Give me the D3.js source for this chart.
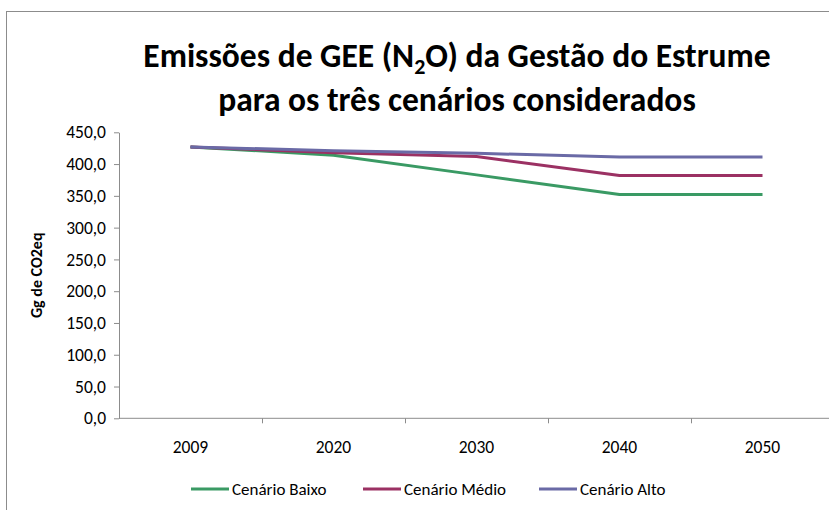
<!DOCTYPE html>
<html>
<head>
<meta charset="utf-8">
<script src="https://cdn.jsdelivr.net/npm/d3@7"></script>
<style>
  body { margin: 0; background: #fff; }
  text { font-family: Carlito, Lato, "Open Sans", sans-serif; }
</style>
</head>
<body>
<svg width="829" height="510"></svg>
<script>
var years = ["2009", "2020", "2030", "2040", "2050"];
var baixo = [427, 414, 383, 352, 352];
var medio = [427, 418, 412, 382, 382];
var alto = [427, 421, 417, 411, 411];
var seriesNames = ["Cenário Baixo", "Cenário Médio", "Cenário Alto"];
var seriesColors = ["#3a9a64", "#9b3163", "#6a6aa6"];
var yTicks = [0, 50, 100, 150, 200, 250, 300, 350, 400, 450];

var svg = d3.select("svg");

// chart frame (cut off on the right and bottom like the original)
svg.append("rect")
    .attr("x", 6.5).attr("y", 11.5)
    .attr("width", 900).attr("height", 600)
    .attr("fill", "none")
    .attr("stroke", "#8c8c8c")
    .attr("stroke-width", 1);

var plotLeft = 119, plotRight = 834, plotTop = 132.3, plotBottom = 418.3;

var x = d3.scaleBand()
    .domain(years)
    .range([plotLeft, plotRight]);

var y = d3.scaleLinear()
    .domain([0, 450])
    .range([plotBottom, plotTop]);

// y axis
var yAxis = svg.append("g")
    .attr("transform", "translate(" + plotLeft + ",0)")
    .call(d3.axisLeft(y)
        .tickValues(yTicks)
        .tickSize(5)
        .tickSizeOuter(0)
        .tickPadding(8)
        .tickFormat(function(d) { return d3.format(".1f")(d).replace(".", ","); }));
yAxis.select(".domain").attr("stroke", "#8c8c8c");
yAxis.selectAll(".tick line").attr("stroke", "#8c8c8c");
yAxis.selectAll("text")
    .attr("font-size", "17.5px")
    .attr("fill", "#000");

// x axis: ticks between categories
var xg = svg.append("g");
xg.append("line")
    .attr("x1", plotLeft).attr("x2", plotRight)
    .attr("y1", plotBottom).attr("y2", plotBottom)
    .attr("stroke", "#8c8c8c");
xg.selectAll(".xtick")
    .data(years.slice(1))
    .enter()
    .append("line")
    .attr("x1", function(d) { return x(d) + 0.5; })
    .attr("x2", function(d) { return x(d) + 0.5; })
    .attr("y1", plotBottom)
    .attr("y2", plotBottom + 5)
    .attr("stroke", "#8c8c8c");
xg.selectAll(".xlabel")
    .data(years)
    .enter()
    .append("text")
    .text(function(d) { return d; })
    .attr("x", function(d) { return x(d) + x.bandwidth() / 2; })
    .attr("y", 453)
    .attr("text-anchor", "middle")
    .attr("font-size", "17.5px")
    .attr("fill", "#000");

// lines
var allSeries = [baixo, medio, alto];
var line = d3.line()
    .x(function(d, i) { return x(years[i]) + x.bandwidth() / 2; })
    .y(function(d) { return y(d); });

svg.selectAll(".series")
    .data(allSeries)
    .enter()
    .append("path")
    .attr("d", line)
    .attr("fill", "none")
    .attr("stroke", function(d, i) { return seriesColors[i]; })
    .attr("stroke-width", 3)
    .attr("stroke-linejoin", "round");

// y axis title
svg.append("text")
    .text("Gg de CO2eq")
    .attr("transform", "translate(42," + ((plotTop + plotBottom) / 2) + ") rotate(-90)")
    .attr("text-anchor", "middle")
    .attr("font-size", "16px")
    .attr("font-weight", "bold")
    .attr("fill", "#000");

// title
var title = svg.append("text")
    .attr("x", 457)
    .attr("y", 67)
    .attr("text-anchor", "middle")
    .attr("font-size", "33.5px")
    .attr("font-weight", "bold")
    .attr("fill", "#000");
title.append("tspan").text("Emissões de GEE (N");
title.append("tspan").text("2").attr("font-size", "22px").attr("dy", 7);
title.append("tspan").text("O) da Gestão do Estrume").attr("dy", -7);

svg.append("text")
    .text("para os três cenários considerados")
    .attr("x", 457)
    .attr("y", 111)
    .attr("text-anchor", "middle")
    .attr("font-size", "33.5px")
    .attr("font-weight", "bold")
    .attr("fill", "#000");

// legend
var legendX = [191, 363, 539];
var legend = svg.selectAll(".legend")
    .data(seriesNames)
    .enter()
    .append("g")
    .attr("transform", function(d, i) { return "translate(" + legendX[i] + ",489)"; });
legend.append("line")
    .attr("x1", 0).attr("x2", 38)
    .attr("y1", 0).attr("y2", 0)
    .attr("stroke", function(d, i) { return seriesColors[i]; })
    .attr("stroke-width", 3);
legend.append("text")
    .text(function(d) { return d; })
    .attr("x", 41)
    .attr("y", 6)
    .attr("font-size", "17px")
    .attr("fill", "#000");
</script>
</body>
</html>
